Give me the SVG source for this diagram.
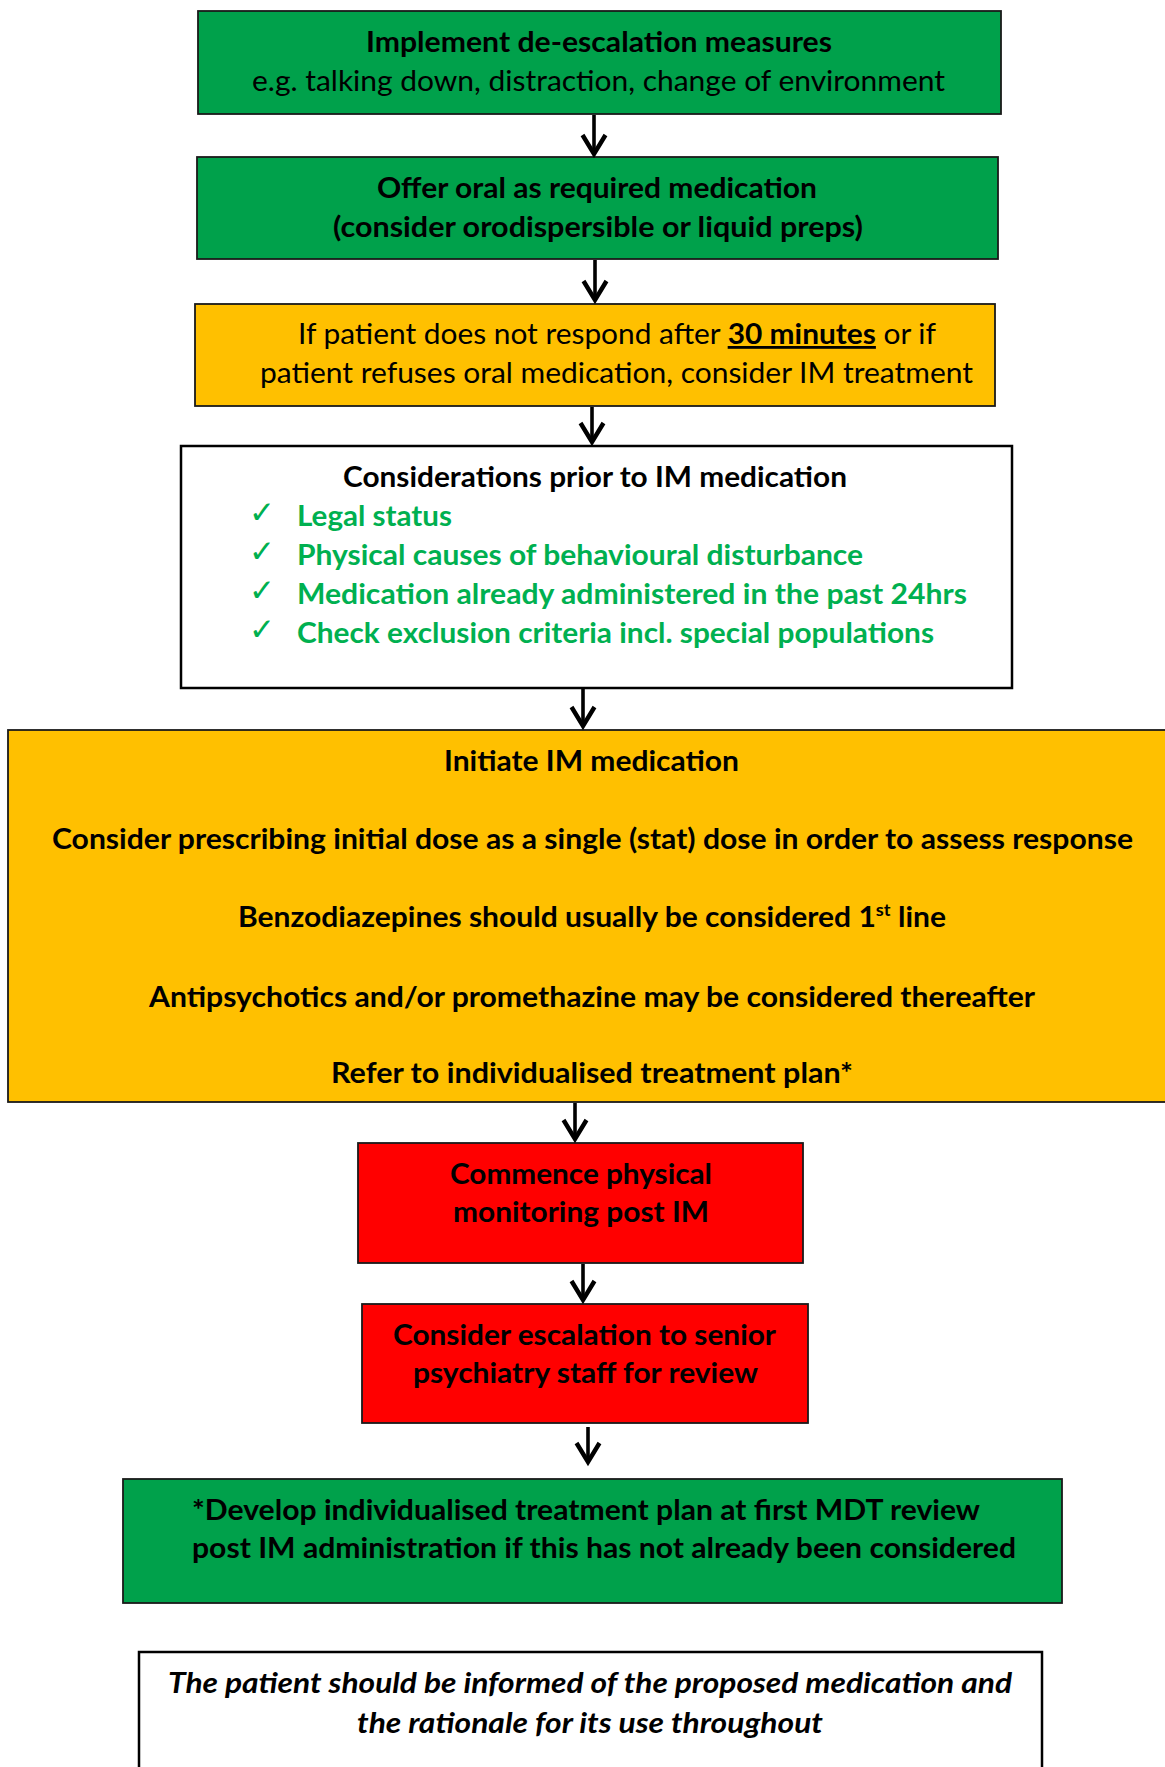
<svg xmlns="http://www.w3.org/2000/svg" width="1165" height="1767" viewBox="0 0 1165 1767">
<style>
text{font-family:Lato,"Liberation Sans",Arial,sans-serif;font-size:28px;fill:#000}
.b{font-weight:700}
.g{fill:#00B050;font-weight:700}
.ck{font-family:"DejaVu Sans",sans-serif;font-size:31px;fill:#00B050}
.it{font-weight:700;font-style:italic}
.box{stroke:#1a1a1a;stroke-width:1.8}
.green{fill:#00A14B}
.gold{fill:#FFC000}
.red{fill:#FF0000}
.white{fill:#fff;stroke:#000;stroke-width:2.5}
.conn line{stroke:#000;stroke-width:3.6;fill:none}
</style>
<defs>
<marker id="ah" markerUnits="userSpaceOnUse" markerWidth="34" markerHeight="34" refX="0" refY="0" viewBox="-24 -17 28 34" orient="auto">
<path d="M-19,-11.5 L0,0 L-19,11.5" fill="none" stroke="#000" stroke-width="4.4" stroke-linejoin="miter"/>
</marker>
</defs>
<rect width="1165" height="1767" fill="#fff"/>

<g id="n1">
<rect class="box green" x="198" y="11" width="803" height="103"/>
<text class="b" x="366" y="52" textLength="466" lengthAdjust="spacingAndGlyphs">Implement de-escalation measures</text>
<text x="252" y="91" textLength="693" lengthAdjust="spacingAndGlyphs">e.g. talking down, distraction, change of environment</text>
</g>

<g id="n2">
<rect class="box green" x="197" y="157" width="801" height="102"/>
<text class="b" x="377" y="198" textLength="440" lengthAdjust="spacingAndGlyphs">Offer oral as required medication</text>
<text class="b" x="333" y="237" textLength="530" lengthAdjust="spacingAndGlyphs">(consider orodispersible or liquid preps)</text>
</g>

<g id="n3">
<rect class="box gold" x="195" y="304" width="800" height="102"/>
<text x="298" y="344" textLength="638" lengthAdjust="spacingAndGlyphs">If patient does not respond after <tspan class="b" text-decoration="underline">30 minutes</tspan> or if</text>
<text x="260" y="383" textLength="713" lengthAdjust="spacingAndGlyphs">patient refuses oral medication, consider IM treatment</text>
</g>

<g id="n4">
<rect class="white" x="181" y="446" width="831" height="242"/>
<text class="b" x="343" y="487" textLength="504" lengthAdjust="spacingAndGlyphs">Considerations prior to IM medication</text>
<text class="ck" x="249" y="523">✓</text>
<text class="ck" x="249" y="562">✓</text>
<text class="ck" x="249" y="601">✓</text>
<text class="ck" x="249" y="640">✓</text>
<text class="g" x="297" y="526" textLength="155" lengthAdjust="spacingAndGlyphs">Legal status</text>
<text class="g" x="297" y="565" textLength="566" lengthAdjust="spacingAndGlyphs">Physical causes of behavioural disturbance</text>
<text class="g" x="297" y="604" textLength="670" lengthAdjust="spacingAndGlyphs">Medication already administered in the past 24hrs</text>
<text class="g" x="297" y="643" textLength="637" lengthAdjust="spacingAndGlyphs">Check exclusion criteria incl. special populations</text>
</g>

<g id="n5">
<rect class="box gold" x="8" y="730" width="1170" height="372"/>
<text class="b" x="444" y="771" textLength="295" lengthAdjust="spacingAndGlyphs">Initiate IM medication</text>
<text class="b" x="52" y="849" textLength="1081" lengthAdjust="spacingAndGlyphs">Consider prescribing initial dose as a single (stat) dose in order to assess response</text>
<text class="b" x="238" y="927" textLength="708" lengthAdjust="spacingAndGlyphs">Benzodiazepines should usually be considered 1<tspan font-size="17" dy="-11">st</tspan><tspan dy="11"> line</tspan></text>
<text class="b" x="149" y="1007" textLength="886" lengthAdjust="spacingAndGlyphs">Antipsychotics and/or promethazine may be considered thereafter</text>
<text class="b" x="331" y="1083" textLength="522" lengthAdjust="spacingAndGlyphs">Refer to individualised treatment plan*</text>
</g>

<g id="n6">
<rect class="box red" x="358" y="1143" width="445" height="120"/>
<text class="b" x="450" y="1184" textLength="262" lengthAdjust="spacingAndGlyphs">Commence physical</text>
<text class="b" x="453" y="1222" textLength="256" lengthAdjust="spacingAndGlyphs">monitoring post IM</text>
</g>

<g id="n7">
<rect class="box red" x="362" y="1304" width="446" height="119"/>
<text class="b" x="393" y="1345" textLength="383" lengthAdjust="spacingAndGlyphs">Consider escalation to senior</text>
<text class="b" x="413" y="1383" textLength="345" lengthAdjust="spacingAndGlyphs">psychiatry staff for review</text>
</g>

<g id="n8">
<rect class="box green" x="123" y="1479" width="939" height="124"/>
<text class="b" x="192" y="1520" textLength="788" lengthAdjust="spacingAndGlyphs">*Develop individualised treatment plan at first MDT review</text>
<text class="b" x="192" y="1558" textLength="824" lengthAdjust="spacingAndGlyphs">post IM administration if this has not already been considered</text>
</g>

<g id="n9">
<rect class="white" x="139" y="1652" width="903" height="140"/>
<text class="it" x="168" y="1693" textLength="844" lengthAdjust="spacingAndGlyphs">The patient should be informed of the proposed medication and</text>
<text class="it" x="357" y="1733" textLength="466" lengthAdjust="spacingAndGlyphs">the rationale for its use throughout</text>
</g>

<g id="connectors" class="conn">
<line x1="594" y1="115" x2="594" y2="154" marker-end="url(#ah)"/>
<line x1="595" y1="260" x2="595" y2="300" marker-end="url(#ah)"/>
<line x1="592" y1="407" x2="592" y2="442" marker-end="url(#ah)"/>
<line x1="583" y1="689" x2="583" y2="726" marker-end="url(#ah)"/>
<line x1="575" y1="1103" x2="575" y2="1139" marker-end="url(#ah)"/>
<line x1="583" y1="1264" x2="583" y2="1300" marker-end="url(#ah)"/>
<line x1="588" y1="1427" x2="588" y2="1462" marker-end="url(#ah)"/>
</g>
</svg>
